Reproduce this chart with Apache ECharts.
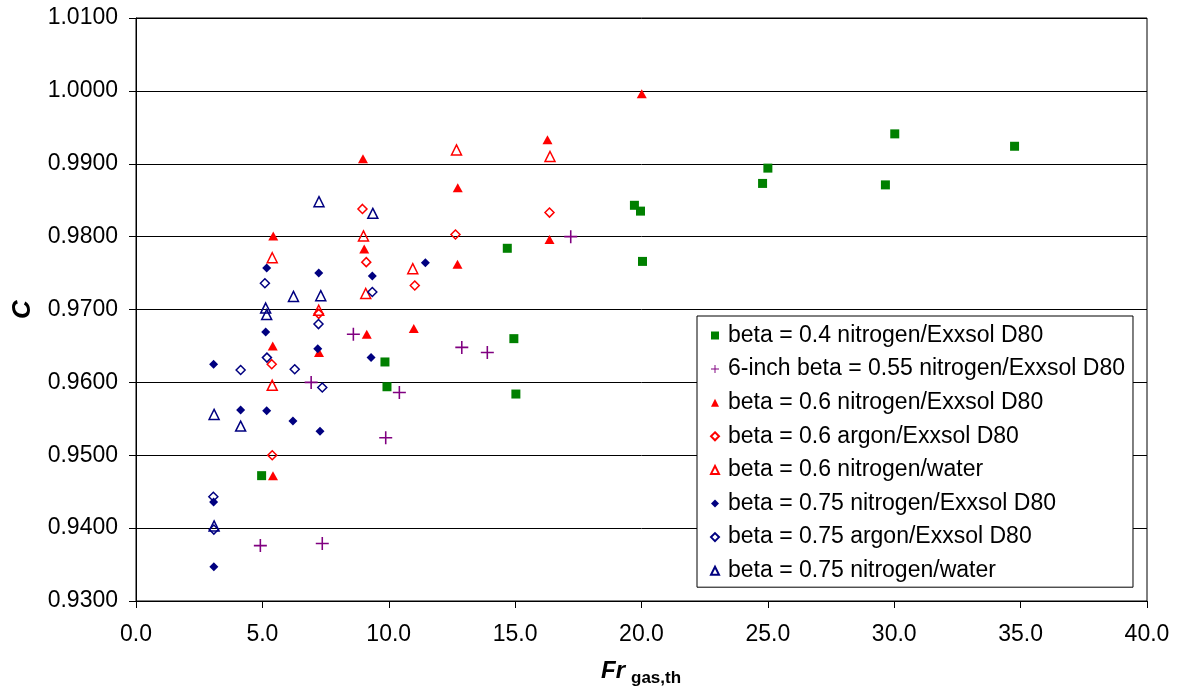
<!DOCTYPE html>
<html>
<head>
<meta charset="utf-8">
<script src="https://cdn.jsdelivr.net/npm/echarts@6/dist/echarts.min.js"></script>
<style>
  html, body { margin: 0; padding: 0; background: #fff; }
  #chart { width: 1181px; height: 691px; }
</style>
</head>
<body>
<div id="chart"></div>
<script>
/* data: [Fr gas,th , C] */
var beta04N2Exx = [[4.97,0.9472],[9.85,0.9628],[9.93,0.9594],[14.69,0.9784],[14.95,0.9660],[15.03,0.9584],
    [19.72,0.9843],[19.96,0.9835],[20.04,0.9766],[24.79,0.9873],[25.0,0.9894],[29.65,0.9871],[30.02,0.9941],[34.76,0.9924]];
var inch6Beta055N2Exx = [[4.92,0.9376],[7.37,0.9379],[6.93,0.9600],[8.6,0.9666],[9.88,0.9524],[10.42,0.9586],
    [12.89,0.9648],[13.9,0.9641],[17.2,0.9800]];
var beta06N2Exx = [[5.43,0.9801],[5.41,0.9650],[5.42,0.9472],[7.24,0.9641],[8.98,0.9907],[9.03,0.9783],[9.13,0.9666],
    [10.99,0.9674],[12.72,0.9762],[12.73,0.9867],[16.28,0.9933],[16.36,0.9796],[20.01,0.9996]];
var beta06ArExx = [[5.37,0.9625],[5.39,0.9500],[7.23,0.9694],[8.96,0.9838],[9.11,0.9765],[11.03,0.9733],[12.64,0.9803],[16.36,0.9833]];
var beta06N2Water = [[5.39,0.9771],[5.39,0.9596],[7.23,0.9699],[9.0,0.9801],[9.09,0.9722],[10.95,0.9756],[12.68,0.9919],[16.38,0.9910]];
var beta075N2Exx = [[3.07,0.9625],[3.07,0.9436],[3.08,0.9347],[4.14,0.9562],[5.13,0.9669],[5.17,0.9757],[5.17,0.9561],
    [6.21,0.9547],[7.19,0.9646],[7.23,0.9750],[7.28,0.9533],[9.3,0.9634],[9.35,0.9746],[11.45,0.9764]];
var beta075ArExx = [[3.06,0.9443],[3.08,0.9398],[4.14,0.9617],[5.1,0.9736],[5.18,0.9634],[6.28,0.9618],[7.22,0.9680],[7.37,0.9593],[9.35,0.9724]];
var beta075N2Water = [[3.09,0.9556],[3.09,0.9403],[4.14,0.9540],[5.13,0.9702],[5.17,0.9693],[6.23,0.9718],[7.24,0.9848],[7.31,0.9719],[9.37,0.9832]];

var seriesNames = ['beta = 0.4 nitrogen/Exxsol D80','6-inch beta = 0.55 nitrogen/Exxsol D80','beta = 0.6 nitrogen/Exxsol D80',
    'beta = 0.6 argon/Exxsol D80','beta = 0.6 nitrogen/water','beta = 0.75 nitrogen/Exxsol D80',
    'beta = 0.75 argon/Exxsol D80','beta = 0.75 nitrogen/water'];

var FONT = 'Liberation Sans, Arial, sans-serif';
var PLUS = 'path://M4.4,0h1.2v4.4h4.4v1.2h-4.4v4.4h-1.2v-4.4h-4.4v-1.2h4.4z';

function filled(name, data, symbol, size, color){
    return {name:name, type:'scatter', data:data, symbol:symbol, symbolSize:size,
        itemStyle:{color:color, opacity:1}};
}
function hollow(name, data, symbol, size, color){
    return {name:name, type:'scatter', data:data, symbol:symbol, symbolSize:size,
        itemStyle:{color:'rgba(255,255,255,0)', borderColor:color, borderWidth:1.5, opacity:1}};
}

var myChart = echarts.init(document.getElementById('chart'));
var option = {
    backgroundColor:'#fff',
    animation:false,
    grid:{left:136, right:34, top:18, bottom:90, show:true, borderColor:'#000', borderWidth:1},
    xAxis:{
        type:'value', min:0, max:40, interval:5,
        axisLine:{lineStyle:{color:'#000', width:1}},
        axisTick:{length:7, lineStyle:{color:'#000'}},
        axisLabel:{margin:22, color:'#000', fontSize:23, fontFamily:FONT,
            formatter:function(v){ return v.toFixed(1); }},
        splitLine:{show:false}
    },
    yAxis:{
        type:'value', min:0.93, max:1.01, interval:0.01,
        name:'C', nameLocation:'middle', nameRotate:90, nameGap:100,
        nameTextStyle:{fontSize:26, fontWeight:'bold', fontStyle:'italic', fontFamily:FONT, color:'#000'},
        axisLine:{show:true, lineStyle:{color:'#000', width:1}},
        axisTick:{show:true, length:7, lineStyle:{color:'#000'}},
        axisLabel:{margin:18, color:'#000', fontSize:23, fontFamily:FONT,
            formatter:function(v){ return v.toFixed(4); }},
        splitLine:{show:true, lineStyle:{color:'#000', width:1}}
    },
    legend:{
        orient:'vertical', left:697, top:316,
        padding:[8,8,5,13], itemGap:10.6, itemWidth:8, itemHeight:8,
        backgroundColor:'#fff', borderColor:'#000', borderWidth:1,
        textStyle:{fontSize:23, lineHeight:22, fontFamily:FONT, color:'#000', padding:[0,0,0,4]},
        data:seriesNames
    },
    graphic:[
        {type:'text', left:601, top:659, style:{text:'Fr', font:'italic bold 24px ' + FONT, fill:'#000'}},
        {type:'text', left:631, top:670, style:{text:'gas,th', font:'bold 17px ' + FONT, fill:'#000'}}
    ],
    series:[
        filled(seriesNames[0], beta04N2Exx, 'rect', 9, '#008000'),
        filled(seriesNames[1], inch6Beta055N2Exx, PLUS, 13, '#800080'),
        filled(seriesNames[2], beta06N2Exx, 'triangle', [10,9], '#ff0000'),
        hollow(seriesNames[3], beta06ArExx, 'diamond', 9, '#ff0000'),
        hollow(seriesNames[4], beta06N2Water, 'triangle', 10, '#ff0000'),
        filled(seriesNames[5], beta075N2Exx, 'diamond', 9, '#000080'),
        hollow(seriesNames[6], beta075ArExx, 'diamond', 9, '#000080'),
        hollow(seriesNames[7], beta075N2Water, 'triangle', 10, '#000080')
    ]
};
myChart.setOption(option, true);
</script>
</body>
</html>
